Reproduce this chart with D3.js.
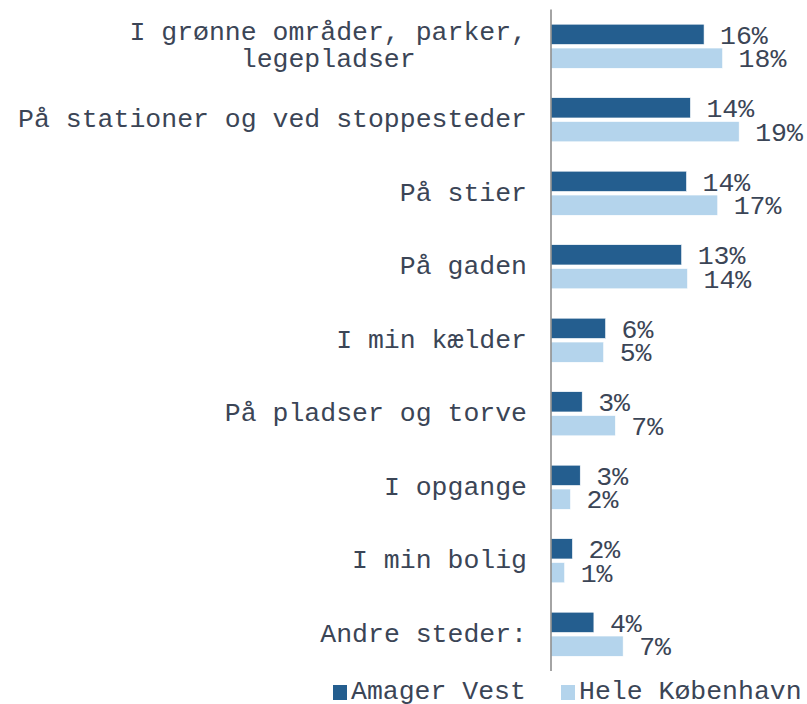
<!DOCTYPE html>
<html>
<head>
<meta charset="utf-8">
<script src="https://cdn.jsdelivr.net/npm/d3@7"></script>
<style>
  body { margin: 0; background: #fff; }
  svg text { font-family: "Liberation Mono", "Courier New", monospace; fill: #3b4556; }
</style>
</head>
<body>
<svg class="chart" width="807" height="704"></svg>
<script>
// categories, top to bottom
var categories = [
  "I grønne områder, parker,|legepladser",
  "På stationer og ved stoppesteder",
  "På stier",
  "På gaden",
  "I min kælder",
  "På pladser og torve",
  "I opgange",
  "I min bolig",
  "Andre steder:"
];
var seriesNames = ["Amager Vest", "Hele København"];
var amagerVest = [15.7, 14.3, 13.9, 13.4, 5.6, 3.2, 3.0, 2.2, 4.4];
var heleKbh    = [17.6, 19.3, 17.1, 14.0, 5.4, 6.6, 2.0, 1.4, 7.4];
var colors = ["#245e8f", "#b4d4ec"];

function drawChart(){
  var svg = d3.select("svg.chart"),
      axisX = 551,
      fontSize = 26.5;

  var x = d3.scaleLinear().domain([0, 20]).range([axisX, axisX + 195]);

  var y = d3.scaleBand()
      .domain(categories)
      .range([9.5, 671])
      .paddingInner(0.4)
      .paddingOuter(0.2);

  var y1 = d3.scaleBand()
      .domain(seriesNames)
      .range([0, y.bandwidth()])
      .paddingInner(0.15);

  var fmt = d3.format(".0f");

  var rows = categories.map(function(c, i){
    return {cat: c, values: [
      {name: seriesNames[0], value: amagerVest[i]},
      {name: seriesNames[1], value: heleKbh[i]}
    ]};
  });

  var group = svg.selectAll(".group")
    .data(rows)
    .enter().append("g")
    .attr("class", "group")
    .attr("transform", function(d){ return "translate(0," + y(d.cat) + ")"; });

  group.selectAll("rect")
    .data(function(d){ return d.values; })
    .enter().append("rect")
    .attr("x", x(0))
    .attr("y", function(d){ return y1(d.name); })
    .attr("width", function(d){ return x(d.value) - x(0); })
    .attr("height", y1.bandwidth())
    .attr("fill", function(d, i){ return colors[i]; })
    .attr("stroke", "#fff")
    .attr("stroke-width", 0.6);

  group.selectAll("text.val")
    .data(function(d){ return d.values; })
    .enter().append("text")
    .attr("class", "val")
    .attr("x", function(d){ return x(d.value) + 16; })
    .attr("y", function(d){ return y1(d.name) + y1.bandwidth() / 2; })
    .attr("dy", "0.35em")
    .attr("font-size", fontSize)
    .text(function(d){ return fmt(d.value) + "%"; });

  // category labels: block right-aligned, lines centred within the block
  var labelRight = 527;
  group.each(function(d){
    var lines = d.cat.split("|");
    var g = d3.select(this);
    var t = g.append("text")
      .attr("font-size", fontSize)
      .attr("text-anchor", "middle");
    var lh = 27;
    var spans = t.selectAll("tspan")
      .data(lines)
      .enter().append("tspan")
      .attr("y", function(l, i){ return y.bandwidth() / 2 + (i - (lines.length - 1) / 2) * lh; })
      .attr("dy", "0.28em")
      .text(function(l){ return l; });
    var maxW = 0;
    spans.each(function(){ maxW = Math.max(maxW, this.getComputedTextLength()); });
    spans.attr("x", labelRight - maxW / 2);
  });

  // vertical axis line
  svg.append("line")
    .attr("x1", axisX).attr("x2", axisX)
    .attr("y1", y.range()[0]).attr("y2", y.range()[1])
    .attr("stroke", "#868686")
    .attr("stroke-width", 1.5);

  // legend
  var legendX = [333, 561];
  var legend = svg.selectAll(".legend")
    .data(seriesNames)
    .enter().append("g")
    .attr("class", "legend")
    .attr("transform", function(d, i){ return "translate(" + legendX[i] + ",685)"; });
  legend.append("rect")
    .attr("width", 14).attr("height", 15)
    .attr("fill", function(d, i){ return colors[i]; });
  legend.append("text")
    .attr("x", 18)
    .attr("y", 14)
    .attr("font-size", fontSize)
    .text(function(d){ return d; });
}

drawChart();
</script>
</body>
</html>
